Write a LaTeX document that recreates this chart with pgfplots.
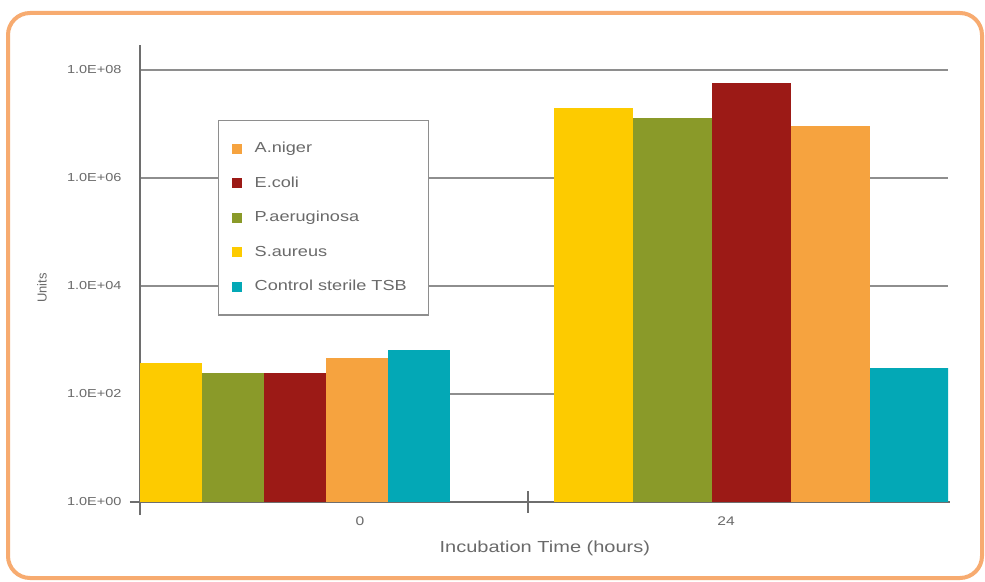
\documentclass[border=0pt]{standalone}
\usepackage{fontspec}
\setmainfont{Liberation Sans}[FakeStretch=1.25]
\newfontfamily\plainfont{Liberation Sans}
\usepackage{pgfplots}
\pgfplotsset{compat=1.18}
\definecolor{cyel}{HTML}{FDCB00}
\definecolor{cgrn}{HTML}{8A9A29}
\definecolor{cred}{HTML}{9C1A16}
\definecolor{corg}{HTML}{F6A33F}
\definecolor{ctea}{HTML}{03A8B6}
\definecolor{cbor}{HTML}{F7AB70}
\definecolor{cgrid}{HTML}{8E8E8E}
\definecolor{caxis}{HTML}{6E6E6E}
\definecolor{ctext}{HTML}{6A6A6A}
\begin{document}
\begin{tikzpicture}
\path[use as bounding box] (0pt,0pt) rectangle (985pt,581pt);
\fill[white] (0pt,0pt) rectangle (985pt,581pt);
\draw[cbor, line width=4pt, rounded corners=22pt] (8pt,3pt) rectangle (982pt,568pt);
\begin{axis}[
  at={(140pt,79pt)}, anchor=south west,
  scale only axis, width=808pt, height=457pt,
  xmin=140, xmax=948,
  ymode=log, ymin=1, ymax=2.904e8,
  axis x line*=bottom, axis y line*=left,
  axis line style={-, draw=caxis, line width=1.8pt},
  x axis line style={shorten <=-10pt, shorten >=-2pt},
  y axis line style={shorten <=-13pt},
  ytick={1,100,10000,1000000,100000000},
  yticklabels={\mbox{1.0E+00},\mbox{1.0E+02},\mbox{1.0E+04},\mbox{1.0E+06},\mbox{1.0E+08}},
  minor ytick={},
  ymajorgrids,
  major grid style={draw=cgrid, line width=1.4pt},
  major tick length=0pt, minor tick length=0pt,
  yticklabel style={anchor=east, xshift=-15pt, font=\fontsize{11.6}{13}\selectfont, text=ctext},
  xtick={360,726},
  xticklabels={\mbox{0},\mbox{24}},
  xticklabel style={anchor=center, yshift=-19pt, font=\fontsize{12.5}{14}\selectfont, text=ctext},
  extra x ticks={528},
  extra x tick labels={},
  extra x tick style={major tick length=22pt, tick align=center, xmajorgrids=false, major tick style={draw=caxis, line width=1.5pt}},
  xlabel={Incubation Time (hours)},
  xlabel style={at={(axis description cs:0.501,-0.1007)}, anchor=center, font=\fontsize{16}{18}\selectfont, text=ctext},
  ylabel={Units},
  ylabel style={at={(axis description cs:-0.1213,0.468)}, anchor=center, font=\plainfont\fontsize{13}{15}\selectfont, text=ctext},
  legend image code/.code={\fill[#1, draw=none] (0pt,-5pt) rectangle (10pt,5pt);},
  legend cell align=left,
  legend style={at={(axis description cs:0.0965,0.836)}, anchor=north west,
    draw=cgrid, line width=1.4pt, fill=white, inner xsep=13pt, inner ysep=11pt,
    row sep=0pt, font=\fontsize{14.5}{16}\selectfont, text=ctext,
    nodes={inner sep=0pt, text height=10.5pt, text depth=3pt, minimum height=34.5pt},
    /tikz/every odd column/.append style={column sep=13pt}},
]
\addlegendimage{fill=corg, draw=none}
\addlegendentry{\makebox[161pt][l]{A.niger}}
\addlegendimage{fill=cred, draw=none}
\addlegendentry{\makebox[161pt][l]{E.coli}}
\addlegendimage{fill=cgrn, draw=none}
\addlegendentry{\makebox[161pt][l]{P.aeruginosa}}
\addlegendimage{fill=cyel, draw=none}
\addlegendentry{\makebox[161pt][l]{S.aureus}}
\addlegendimage{fill=ctea, draw=none}
\addlegendentry{\makebox[161pt][l]{Control sterile TSB}}
% incubation time 0 h
\addplot[ybar, bar width=62, bar shift=0pt, fill=cyel, draw=none, forget plot] coordinates {(171,375)};
\addplot[ybar, bar width=62, bar shift=0pt, fill=cgrn, draw=none, forget plot] coordinates {(233,245)};
\addplot[ybar, bar width=62, bar shift=0pt, fill=cred, draw=none, forget plot] coordinates {(295,245)};
\addplot[ybar, bar width=62, bar shift=0pt, fill=corg, draw=none, forget plot] coordinates {(357,464)};
\addplot[ybar, bar width=62, bar shift=0pt, fill=ctea, draw=none, forget plot] coordinates {(419,653)};
% incubation time 24 h
\addplot[ybar, bar width=79, bar shift=0pt, fill=cyel, draw=none, forget plot] coordinates {(593.5,1.98e7)};
\addplot[ybar, bar width=79, bar shift=0pt, fill=cgrn, draw=none, forget plot] coordinates {(672.5,1.29e7)};
\addplot[ybar, bar width=79, bar shift=0pt, fill=cred, draw=none, forget plot] coordinates {(751.5,5.75e7)};
\addplot[ybar, bar width=79, bar shift=0pt, fill=corg, draw=none, forget plot] coordinates {(830.5,9.18e6)};
\addplot[ybar, bar width=79, bar shift=0pt, fill=ctea, draw=none, forget plot] coordinates {(909.5,303)};
\end{axis}
\end{tikzpicture}
\end{document}
